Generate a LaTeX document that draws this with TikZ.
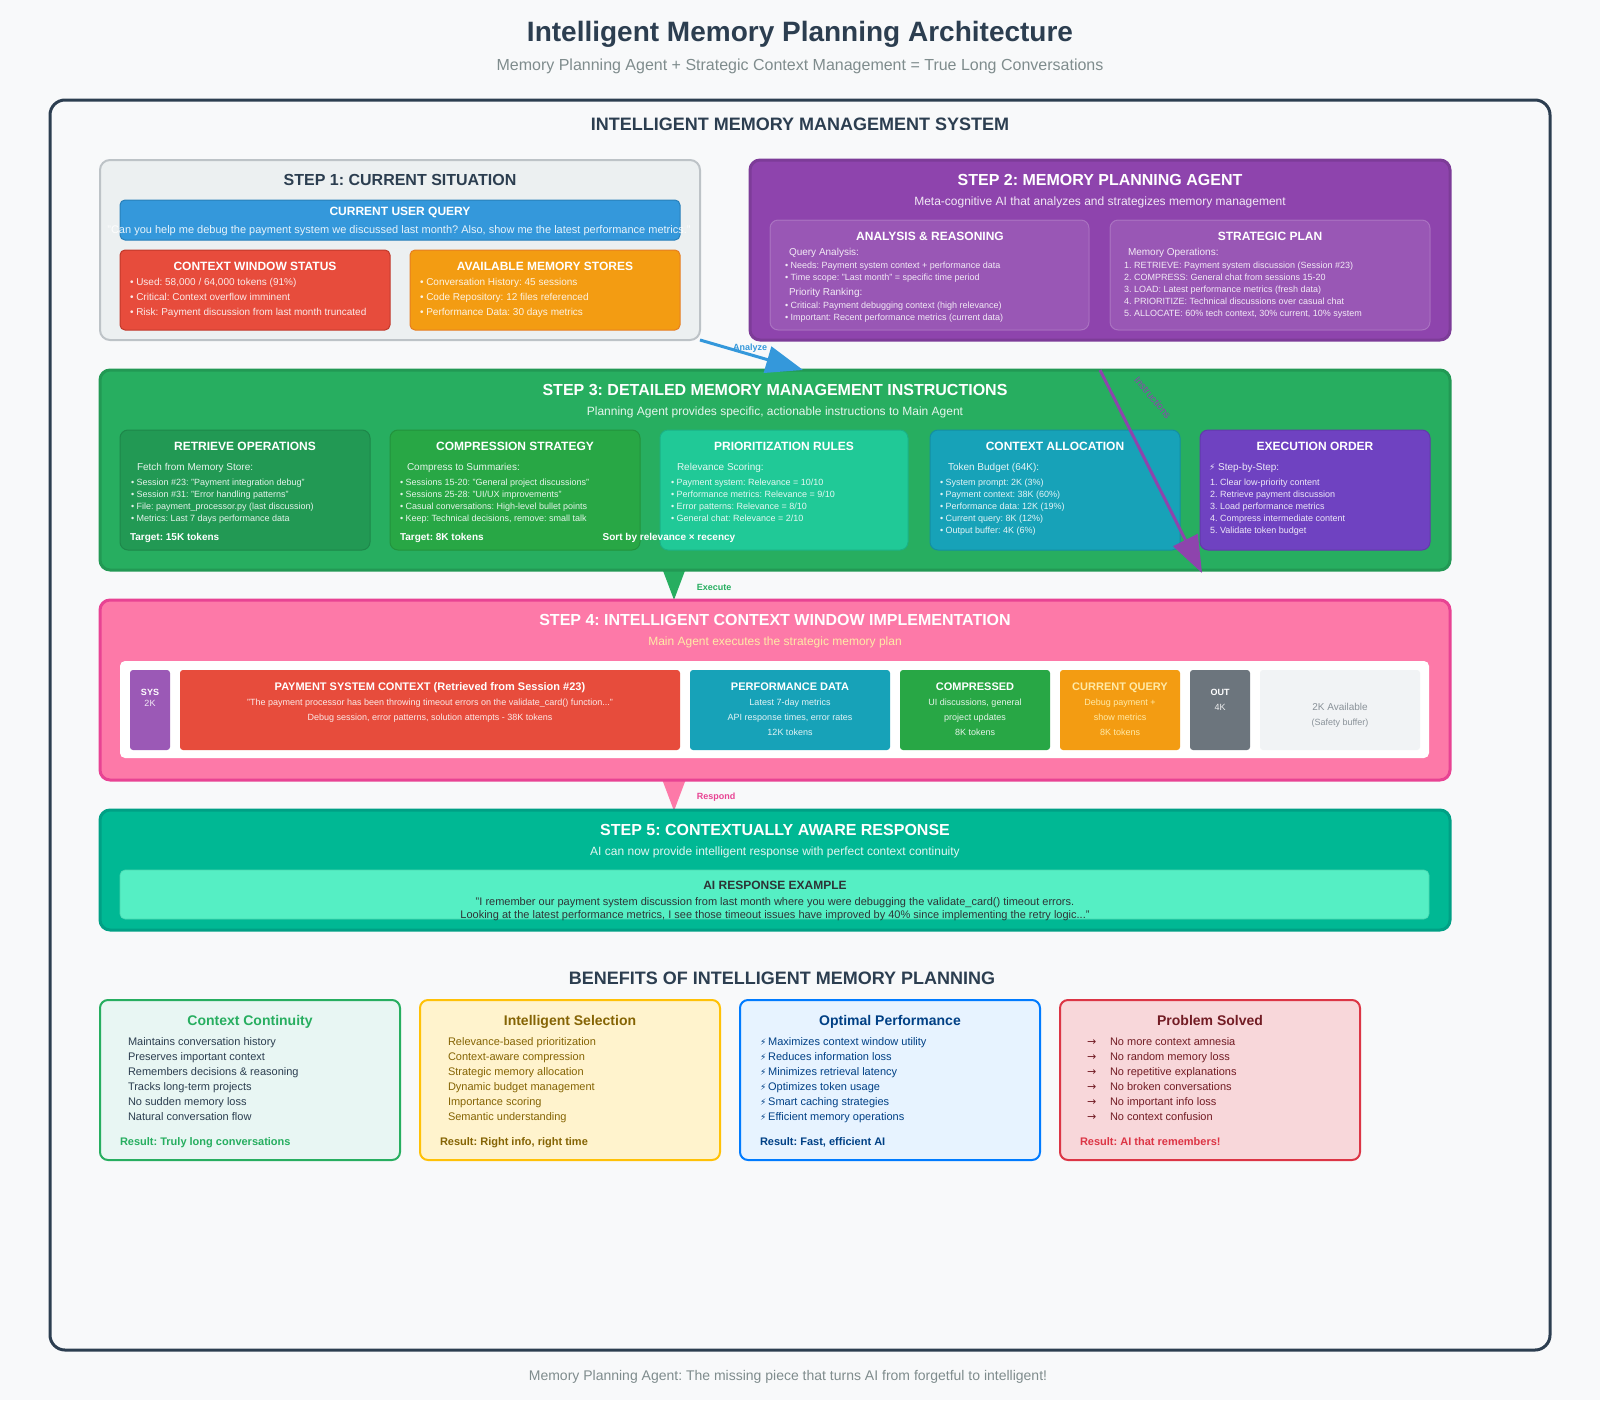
\documentclass[tikz,border=0pt]{standalone}
\usepackage{fontspec}
\setmainfont{Liberation Sans}
\newfontfamily\symfont{DejaVu Sans}
\usetikzlibrary{arrows.meta}
\newcommand\fz[1]{\fontsize{#1}{#1}\selectfont}

\definecolor{bg}{HTML}{F8F9FA}
\definecolor{ink}{HTML}{2C3E50}
\definecolor{mute}{HTML}{7F8C8D}
\definecolor{qBlue}{HTML}{3498DB}
\definecolor{qBlueD}{HTML}{2980B9}
\definecolor{cRed}{HTML}{E74C3C}
\definecolor{cRedD}{HTML}{C0392B}
\definecolor{cOrange}{HTML}{F39C12}
\definecolor{cOrangeD}{HTML}{E67E22}
\definecolor{sOneFill}{HTML}{ECF0F1}
\definecolor{sOneLine}{HTML}{BDC3C7}
\definecolor{cPurp}{HTML}{8E44AD}
\definecolor{cPurpD}{HTML}{7D3C98}
\definecolor{cGrn}{HTML}{27AE60}
\definecolor{cGrnD}{HTML}{229954}
\definecolor{cGrnC}{HTML}{28A745}
\definecolor{cTeal}{HTML}{20C997}
\definecolor{cCyan}{HTML}{17A2B8}
\definecolor{cIndigo}{HTML}{6F42C1}
\definecolor{cPink}{HTML}{FD79A8}
\definecolor{cPinkD}{HTML}{E84393}
\definecolor{cSand}{HTML}{FFEAA7}
\definecolor{cSys}{HTML}{9B59B6}
\definecolor{cGray}{HTML}{6C757D}
\definecolor{cGrayL}{HTML}{F1F3F5}
\definecolor{cGrayT}{HTML}{8A9299}
\definecolor{cMint}{HTML}{00B894}
\definecolor{cMintD}{HTML}{00A085}
\definecolor{cMintL}{HTML}{55EFC4}
\definecolor{cDark}{HTML}{2D3436}
\definecolor{bGrnF}{HTML}{E8F6F3}
\definecolor{bYelF}{HTML}{FFF3CD}
\definecolor{bYelL}{HTML}{FFC107}
\definecolor{bYelT}{HTML}{856404}
\definecolor{bBluF}{HTML}{E7F3FF}
\definecolor{bBluL}{HTML}{007BFF}
\definecolor{bBluT}{HTML}{004085}
\definecolor{bRedF}{HTML}{F8D7DA}
\definecolor{bRedL}{HTML}{DC3545}
\definecolor{bRedT}{HTML}{721C24}

\begin{document}
\frenchspacing
\begin{tikzpicture}[x=1pt,y=-1pt,
  every node/.style={inner sep=0pt,outer sep=0pt},
  boxn/.style={draw,rectangle,anchor=north west},
  panel/.style={boxn,line width=3pt,rounded corners=10pt},
  card/.style={boxn,line width=1pt,rounded corners=8pt},
  blk/.style={boxn,draw=none,rounded corners=3pt,minimum height=80pt},
  ct/.style={anchor=mid},
  lt/.style={anchor=mid west},
  wt/.style={text=white,text opacity=.88},
  steptitle/.style={ct,text=white,font=\fz{16}\bfseries},
  stepsub/.style={ct,wt,font=\fz{12}},
  cardtitle/.style={ct,text=white,font=\fz{12}\bfseries},
  cardhead/.style={lt,wt,font=\fz{10}},
  cardline/.style={lt,wt,font=\fz{9}},
  bigtip/.style={line width=3pt,-{Triangle[length=37pt,width=27pt]}},
  flowlbl/.style={ct,font=\fz{9}\bfseries},
  bbox/.style={boxn,line width=2pt,rounded corners=8pt,minimum width=300pt,minimum height=160pt},
  btitle/.style={ct,font=\fz{14}\bfseries},
  bitem/.style={lt,font=\fz{11}},
  bres/.style={lt,font=\fz{11}\bfseries},
]
% canvas
\fill[bg] (0,0) rectangle (1600,1400);

% heading
\node[ct,text=ink,font=\fz{28}\bfseries] (title) at (800,38.5) {Intelligent Memory Planning Architecture};
\node[ct,text=mute,font=\fz{16}] (subtitle) at (800,68) {Memory Planning Agent + Strategic Context Management = True Long Conversations};

% outer frame
\node[boxn,draw=ink,fill=bg,line width=3pt,rounded corners=15pt,minimum width=1500pt,minimum height=1250pt] (outer) at (50,100) {};
\node[ct,text=ink,font=\fz{18}\bfseries] (systitle) at (800,128) {INTELLIGENT MEMORY MANAGEMENT SYSTEM};

% ---------- step 1 ----------
\node[boxn,draw=sOneLine,fill=sOneFill,line width=2pt,rounded corners=10pt,minimum width=600pt,minimum height=180pt] (s1) at (100,160) {};
\node[ct,text=ink,font=\fz{16}\bfseries] (s1t) at (400,182.5) {STEP 1: CURRENT SITUATION};
\node[boxn,draw=qBlueD,fill=qBlue,line width=1pt,rounded corners=5pt,minimum width=560pt,minimum height=40pt] (uq) at (120,200) {};
\node[cardtitle] (uqt) at (400,213) {CURRENT USER QUERY};
\node[ct,wt,font=\fz{11}] (uqx) at (399,230.5) {"Can you help me debug the payment system we discussed last month? Also, show me the latest performance metrics."};

\node[boxn,draw=cRedD,fill=cRed,line width=1pt,rounded corners=5pt,minimum width=270pt,minimum height=80pt] (cw) at (120,250) {};
\node[cardtitle] (cwt) at (255,268) {CONTEXT WINDOW STATUS};
\foreach \s [count=\i from 0] in {{• Used: 58,000 / 64,000 tokens (91\%)},{• Critical: Context overflow imminent},{• Risk: Payment discussion from last month truncated}}
  \node[lt,wt,font=\fz{10}] (cw\i) at (130,282.5+15*\i) {\s};

\node[boxn,draw=cOrangeD,fill=cOrange,line width=1pt,rounded corners=5pt,minimum width=270pt,minimum height=80pt] (ms) at (410,250) {};
\node[cardtitle] (mst) at (545,268) {AVAILABLE MEMORY STORES};
\foreach \s [count=\i from 0] in {{• Conversation History: 45 sessions},{• Code Repository: 12 files referenced},{• Performance Data: 30 days metrics}}
  \node[lt,wt,font=\fz{10}] (ms\i) at (420,282.5+15*\i) {\s};

% ---------- step 2 ----------
\node[panel,draw=cPurpD,fill=cPurp,minimum width=700pt,minimum height=180pt] (s2) at (750,160) {};
\node[steptitle] (s2t) at (1100,183) {STEP 2: MEMORY PLANNING AGENT};
\node[stepsub] (s2s) at (1100,203) {Meta-cognitive AI that analyzes and strategizes memory management};

\node[card,fill=white,fill opacity=.1,draw=white,draw opacity=.2,minimum width=319pt,minimum height=110pt] (an) at (770,220) {};
\node[cardtitle] (ant) at (930,237.5) {ANALYSIS \& REASONING};
\node[cardhead] (anh1) at (789,253) {Query Analysis:};
\foreach \s [count=\i from 0] in {{• Needs: Payment system context + performance data},{• Time scope: "Last month" = specific time period}}
  \node[cardline] (ana\i) at (785,265.5+12*\i) {\s};
\node[cardhead] (anh2) at (789,293) {Priority Ranking:};
\foreach \s [count=\i from 0] in {{• Critical: Payment debugging context (high relevance)},{• Important: Recent performance metrics (current data)}}
  \node[cardline] (anb\i) at (785,305.5+12*\i) {\s};

\node[card,fill=white,fill opacity=.1,draw=white,draw opacity=.2,minimum width=320pt,minimum height=110pt] (sp) at (1110,220) {};
\node[cardtitle] (spt) at (1270,237.5) {STRATEGIC PLAN};
\node[cardhead] (sph) at (1128,253) {Memory Operations:};
\foreach \s [count=\i from 0] in {{1. RETRIEVE: Payment system discussion (Session \#23)},{2. COMPRESS: General chat from sessions 15-20},{3. LOAD: Latest performance metrics (fresh data)},{4. PRIORITIZE: Technical discussions over casual chat},{5. ALLOCATE: 60\% tech context, 30\% current, 10\% system}}
  \node[cardline] (sp\i) at (1124,265.5+12*\i) {\s};

% flow markers that sit beneath later panels
\coordinate (ex1) at (674,545);
\coordinate (ex2) at (674,600);
\draw[bigtip,cGrn] (ex1) -- (ex2);
\coordinate (rs1) at (674,760);
\coordinate (rs2) at (674,811);
\draw[bigtip,cPink] (rs1) -- (rs2);

% ---------- step 3 ----------
\node[panel,draw=cGrnD,fill=cGrn,minimum width=1350pt,minimum height=200pt] (s3) at (100,370) {};
\node[steptitle] (s3t) at (775,392.5) {STEP 3: DETAILED MEMORY MANAGEMENT INSTRUCTIONS};
\node[stepsub] (s3s) at (775,413) {Planning Agent provides specific, actionable instructions to Main Agent};

\node[card,fill=cGrnD,draw=cGrnD!88!black,minimum width=250pt,minimum height=120pt] (c1) at (120,430) {};
\node[cardtitle] (c1t) at (245,447.5) {RETRIEVE OPERATIONS};
\node[cardhead] (c1h) at (137,467.5) {Fetch from Memory Store:};
\foreach \s [count=\i from 0] in {{• Session \#23: "Payment integration debug"},{• Session \#31: "Error handling patterns"},{• File: payment\_processor.py (last discussion)},{• Metrics: Last 7 days performance data}}
  \node[cardline] (c1l\i) at (131,482.5+12*\i) {\s};
\node[lt,text=white,font=\fz{10}\bfseries] (c1x) at (130,537.5) {Target: 15K tokens};

\node[card,fill=cGrnC,draw=cGrnC!88!black,minimum width=250pt,minimum height=120pt] (c2) at (390,430) {};
\node[cardtitle] (c2t) at (515,447.5) {COMPRESSION STRATEGY};
\node[cardhead] (c2h) at (407,467.5) {Compress to Summaries:};
\foreach \s [count=\i from 0] in {{• Sessions 15-20: "General project discussions"},{• Sessions 25-28: "UI/UX improvements"},{• Casual conversations: High-level bullet points},{• Keep: Technical decisions, remove: small talk}}
  \node[cardline] (c2l\i) at (400,482.5+12*\i) {\s};
\node[lt,text=white,font=\fz{10}\bfseries] (c2x) at (400,537.5) {Target: 8K tokens};

\node[card,fill=cTeal,draw=cTeal!88!black,minimum width=248pt,minimum height=120pt] (c3) at (660,430) {};
\node[cardtitle] (c3t) at (784,447.5) {PRIORITIZATION RULES};
\node[cardhead] (c3h) at (677,467.5) {Relevance Scoring:};
\foreach \s [count=\i from 0] in {{• Payment system: Relevance = 10/10},{• Performance metrics: Relevance = 9/10},{• Error patterns: Relevance = 8/10},{• General chat: Relevance = 2/10}}
  \node[cardline] (c3l\i) at (671,482.5+12*\i) {\s};
\node[ct,text=white,font=\fz{10}\bfseries] (c3x) at (669,537.5) {Sort by relevance × recency};

\node[card,fill=cCyan,draw=cCyan!88!black,minimum width=250pt,minimum height=120pt] (c4) at (930,430) {};
\node[cardtitle] (c4t) at (1055,447.5) {CONTEXT ALLOCATION};
\node[cardhead] (c4h) at (948,467.5) {Token Budget (64K):};
\foreach \s [count=\i from 0] in {{• System prompt: 2K (3\%)},{• Payment context: 38K (60\%)},{• Performance data: 12K (19\%)},{• Current query: 8K (12\%)},{• Output buffer: 4K (6\%)}}
  \node[cardline] (c4l\i) at (940,482.5+12*\i) {\s};

\node[card,fill=cIndigo,draw=cIndigo!88!black,minimum width=230pt,minimum height=120pt] (c5) at (1200,430) {};
\node[cardtitle] (c5t) at (1315,447.5) {EXECUTION ORDER};
\node[cardhead] (c5h) at (1209,467.5) {{\symfont\fz{9}⚡} Step-by-Step:};
\foreach \s [count=\i from 0] in {{1. Clear low-priority content},{2. Retrieve payment discussion},{3. Load performance metrics},{4. Compress intermediate content},{5. Validate token budget}}
  \node[cardline] (c5l\i) at (1210,482.5+12*\i) {\s};

% connectors between steps
\draw[bigtip,qBlue] (s1.south east) -- (803,370) coordinate (az2);
\node[flowlbl,text=qBlue] (azl) at (750,347.5) {Analyze};
\coordinate (in1) at (1100,370);
\coordinate (in2) at (1202,573);
\draw[bigtip,cPurp] (in1) -- (in2);
\node[ct,text=cPurp,font=\fz{10},rotate=-50] (inl) at (1152,398) {Instructions};
\node[flowlbl,text=cGrn] (exl) at (714,588) {Execute};

% ---------- step 4 ----------
\node[panel,draw=cPinkD,fill=cPink,minimum width=1350pt,minimum height=180pt] (s4) at (100,600) {};
\node[steptitle] (s4t) at (775,623) {STEP 4: INTELLIGENT CONTEXT WINDOW IMPLEMENTATION};
\node[ct,text=cSand,font=\fz{12}] (s4s) at (775,643) {Main Agent executes the strategic memory plan};
\node[boxn,draw=none,fill=white,rounded corners=5pt,minimum width=1309pt,minimum height=97pt] (win) at (120,661) {};

\node[blk,fill=cSys,minimum width=40pt] (bsys) at (130,670) {};
\node[ct,text=white,font=\fz{9}\bfseries] (bsys1) at (150,693) {SYS};
\node[ct,wt,font=\fz{9}] (bsys2) at (150,704) {2K};

\node[blk,fill=cRed,minimum width=500pt] (bpay) at (180,670) {};
\node[ct,text=white,font=\fz{11}\bfseries] (bpay1) at (430,688) {PAYMENT SYSTEM CONTEXT (Retrieved from Session \#23)};
\node[ct,wt,font=\fz{9}] (bpay2) at (430,703) {"The payment processor has been throwing timeout errors on the validate\_card() function..."};
\node[ct,wt,font=\fz{9}] (bpay3) at (430,718) {Debug session, error patterns, solution attempts - 38K tokens};

\node[blk,fill=cCyan,minimum width=200pt] (bperf) at (690,670) {};
\node[ct,text=white,font=\fz{11}\bfseries] (bperf1) at (790,688) {PERFORMANCE DATA};
\node[ct,wt,font=\fz{9}] (bperf2) at (790,703) {Latest 7-day metrics};
\node[ct,wt,font=\fz{9}] (bperf3) at (790,718) {API response times, error rates};
\node[ct,wt,font=\fz{9}] (bperf4) at (790,733) {12K tokens};

\node[blk,fill=cGrnC,minimum width=150pt] (bcmp) at (900,670) {};
\node[ct,text=white,font=\fz{11}\bfseries] (bcmp1) at (975,688) {COMPRESSED};
\node[ct,wt,font=\fz{9}] (bcmp2) at (975,703) {UI discussions, general};
\node[ct,wt,font=\fz{9}] (bcmp3) at (975,718) {project updates};
\node[ct,wt,font=\fz{9}] (bcmp4) at (975,733) {8K tokens};

\node[blk,fill=cOrange,minimum width=120pt] (bcq) at (1060,670) {};
\node[ct,text=cSand,font=\fz{11}\bfseries] (bcq1) at (1120,688) {CURRENT QUERY};
\node[ct,text=cSand,font=\fz{9}] (bcq2) at (1120,703) {Debug payment +};
\node[ct,text=cSand,font=\fz{9}] (bcq3) at (1120,718) {show metrics};
\node[ct,text=cSand,font=\fz{9}] (bcq4) at (1120,733) {8K tokens};

\node[blk,fill=cGray,minimum width=60pt] (bout) at (1190,670) {};
\node[ct,text=white,font=\fz{9}\bfseries] (bout1) at (1220,693) {OUT};
\node[ct,wt,font=\fz{9}] (bout2) at (1220,708) {4K};

\node[blk,fill=cGrayL,minimum width=160pt] (bav) at (1260,670) {};
\node[ct,text=cGrayT,font=\fz{10}] (bav1) at (1340,708) {2K Available};
\node[ct,text=cGrayT,font=\fz{9}] (bav2) at (1340,723) {(Safety buffer)};

\node[flowlbl,text=cPinkD] (rsl) at (716,797) {Respond};

% ---------- step 5 ----------
\node[panel,draw=cMintD,fill=cMint,minimum width=1350pt,minimum height=120pt] (s5) at (100,810) {};
\node[steptitle] (s5t) at (775,832.5) {STEP 5: CONTEXTUALLY AWARE RESPONSE};
\node[stepsub] (s5s) at (775,853) {AI can now provide intelligent response with perfect context continuity};
\node[boxn,draw=cMintL!90!black,fill=cMintL,line width=.6pt,rounded corners=5pt,minimum width=1309pt,minimum height=49pt] (ai) at (120,870) {};
\node[ct,text=cDark,font=\fz{12}\bfseries] (ait) at (775,887) {AI RESPONSE EXAMPLE};
\node[ct,text=cDark,font=\fz{11}] (ai1) at (775,902.5) {"I remember our payment system discussion from last month where you were debugging the validate\_card() timeout errors.};
\node[ct,text=cDark,font=\fz{11}] (ai2) at (775,916) {Looking at the latest performance metrics, I see those timeout issues have improved by 40\% since implementing the retry logic..."};

% ---------- benefits ----------
\node[ct,text=ink,font=\fz{18}\bfseries] (bh) at (782,982) {BENEFITS OF INTELLIGENT MEMORY PLANNING};

\node[bbox,draw=cGrn,fill=bGrnF] (k1) at (100,1000) {};
\node[btitle,text=cGrn] (k1t) at (250,1023) {Context Continuity};
\foreach \s [count=\i from 0] in {{Maintains conversation history},{Preserves important context},{Remembers decisions \& reasoning},{Tracks long-term projects},{No sudden memory loss},{Natural conversation flow}}
  \node[bitem,text=ink] (k1l\i) at (128,1043+15*\i) {\s};
\node[bres,text=cGrn] (k1r) at (120,1143) {Result: Truly long conversations};

\node[bbox,draw=bYelL,fill=bYelF] (k2) at (420,1000) {};
\node[btitle,text=bYelT] (k2t) at (570,1023) {Intelligent Selection};
\foreach \s [count=\i from 0] in {{Relevance-based prioritization},{Context-aware compression},{Strategic memory allocation},{Dynamic budget management},{Importance scoring},{Semantic understanding}}
  \node[bitem,text=bYelT] (k2l\i) at (448,1043+15*\i) {\s};
\node[bres,text=bYelT] (k2r) at (440,1143) {Result: Right info, right time};

\node[bbox,draw=bBluL,fill=bBluF] (k3) at (740,1000) {};
\node[btitle,text=bBluT] (k3t) at (890,1023) {Optimal Performance};
\foreach \s [count=\i from 0] in {{Maximizes context window utility},{Reduces information loss},{Minimizes retrieval latency},{Optimizes token usage},{Smart caching strategies},{Efficient memory operations}}
  \node[bitem,text=bBluT] (k3l\i) at (760,1043+15*\i) {{\symfont\fz{9}⚡}\,\s};
\node[bres,text=bBluT] (k3r) at (760,1143) {Result: Fast, efficient AI};

\node[bbox,draw=bRedL,fill=bRedF] (k4) at (1060,1000) {};
\node[btitle,text=bRedT] (k4t) at (1210,1023) {Problem Solved};
\foreach \s [count=\i from 0] in {{No more context amnesia},{No random memory loss},{No repetitive explanations},{No broken conversations},{No important info loss},{No context confusion}}
  {\node[bitem,text=bRedT,font=\symfont\fz{11}] (k4a\i) at (1087,1043+15*\i) {→};
   \node[bitem,text=bRedT] (k4l\i) at (1110,1043+15*\i) {\s};}
\node[bres,text=bRedL] (k4r) at (1080,1143) {Result: AI that remembers!};

% footer
\node[ct,text=mute,font=\fz{14}] (foot) at (788,1378) {Memory Planning Agent: The missing piece that turns AI from forgetful to intelligent!};
\end{tikzpicture}
\end{document}
